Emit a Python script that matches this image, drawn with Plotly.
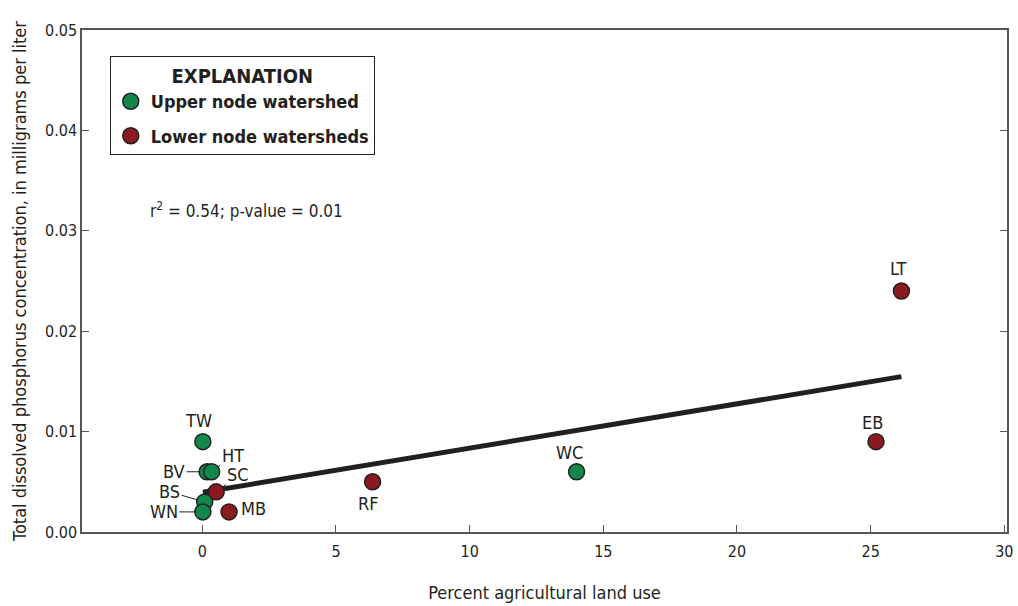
import numpy as np
import plotly.graph_objects as go

# Data
upper_sites = ["TW", "BV", "HT", "BS", "WN", "WC"]
upper_x = [0.02, 0.18, 0.35, 0.09, 0.02, 14.0]
upper_y = [0.009, 0.006, 0.006, 0.003, 0.002, 0.006]

lower_sites = ["SC", "MB", "RF", "EB", "LT"]
lower_x = [0.52, 1.0, 6.37, 25.2, 26.15]
lower_y = [0.004, 0.002, 0.005, 0.009, 0.024]

x_ticks = [0, 5, 10, 15, 20, 25, 30]
y_ticks = [0.00, 0.01, 0.02, 0.03, 0.04, 0.05]

FONT = "DejaVu Sans Condensed, Liberation Sans Narrow, sans-serif"
GREEN = "#12874a"
RED = "#8a1a1f"
DARK = "#231f20"

all_x = np.array(upper_x + lower_x)
all_y = np.array(upper_y + lower_y)
slope, intercept = np.polyfit(all_x, all_y, 1)
line_x = np.array([all_x.min(), all_x.max()])
line_y = slope * line_x + intercept

fig = go.Figure()
fig.add_trace(go.Scatter(
    x=line_x, y=line_y, mode="lines",
    line=dict(color=DARK, width=5), showlegend=False, hoverinfo="skip"))
fig.add_trace(go.Scatter(
    x=upper_x, y=upper_y, mode="markers", name="<b>Upper node watershed</b>",
    legendgroup="u",
    marker=dict(size=16, color=GREEN, line=dict(color=DARK, width=1.5))))
fig.add_trace(go.Scatter(
    x=lower_x, y=lower_y, mode="markers", name="<b>Lower node watersheds</b>",
    legendgroup="l",
    marker=dict(size=16, color=RED, line=dict(color=DARK, width=1.5))))

# label offsets (pixels): site -> (dx, dy, leader)
offsets = {
    "TW": (-4, -21, False),
    "WC": (-7, -19, False),
    "EB": (-4, -19, False),
    "LT": (-3, -23, False),
    "RF": (-4, 22, False),
    "MB": (24, -3, False),
    "BV": (-33, 0, True),
    "HT": (21, -16, True),
    "SC": (22, -17, True),
    "BS": (-35, -10, True),
    "WN": (-39, 0, True),
}
sites = upper_sites + lower_sites
xs = upper_x + lower_x
ys = upper_y + lower_y
for s, xv, yv in zip(sites, xs, ys):
    dx, dy, leader = offsets[s]
    if leader:
        fig.add_annotation(x=xv, y=yv, text=s, showarrow=True, arrowhead=0,
                           arrowwidth=1, arrowcolor=DARK, ax=dx, ay=dy,
                           standoff=7, font=dict(family=FONT, size=18, color=DARK))
    else:
        fig.add_annotation(x=xv, y=yv, text=s, showarrow=False,
                           xshift=dx, yshift=-dy,
                           font=dict(family=FONT, size=18, color=DARK))

fig.add_annotation(xref="paper", yref="paper", x=0.071, y=0.642,
                   xanchor="left", yanchor="middle", showarrow=False,
                   text="r<sup>2</sup> = 0.54; p-value = 0.01",
                   font=dict(family=FONT, size=17, color=DARK))

fig.update_layout(
    width=1018, height=606,
    margin=dict(l=82, r=5, t=30, b=74),
    paper_bgcolor="white", plot_bgcolor="white",
    font=dict(family=FONT, size=15, color=DARK),
    showlegend=True,
    legend=dict(
        x=0.030, y=0.948, xanchor="left", yanchor="top",
        bordercolor=DARK, borderwidth=1, bgcolor="white",
        title=dict(text="<b>EXPLANATION</b>", side="top center",
                   font=dict(family=FONT, size=20, color=DARK)),
        font=dict(family=FONT, size=18, color=DARK),
        itemsizing="trace",
        tracegroupgap=8,
    ),
    xaxis=dict(
        range=[-4.5, 30.1], tickvals=x_ticks, ticktext=[str(v) for v in x_ticks],
        ticks="inside", ticklen=7, tickcolor="#555", showline=True,
        linecolor="#555", linewidth=1.5, mirror=True, showgrid=False,
        zeroline=False, tickfont=dict(size=16), ticklabelstandoff=4,
        title=dict(text="Percent agricultural land use", standoff=26,
                   font=dict(size=18)),
    ),
    yaxis=dict(
        range=[0, 0.05], tickvals=y_ticks, ticktext=[f"{v:.2f}" for v in y_ticks],
        ticks="inside", ticklen=7, tickcolor="#555", showline=True,
        linecolor="#555", linewidth=1.5, mirror="ticks", showgrid=False,
        zeroline=False, tickfont=dict(size=16),
        title=dict(text="Total dissolved phosphorus concentration, in milligrams per liter",
                   standoff=14, font=dict(size=18)),
    ),
)

fig.write_html("out.html")
